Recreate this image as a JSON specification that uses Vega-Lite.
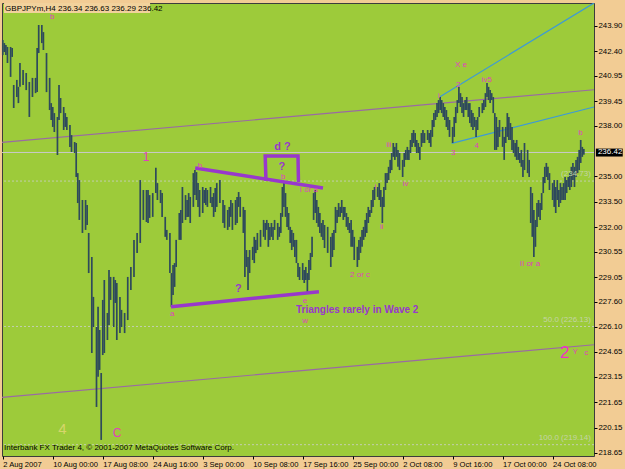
{
"$schema":"https://vega.github.io/schema/vega-lite/v6.json",
"width":592,"height":453,
"autosize":{"type":"none"},
"padding":{"left":2,"top":3,"right":31,"bottom":13},
"background":"#F2CC94",
"config":{"view":{"fill":"#9DCB3A","stroke":"#3C3C3C","strokeWidth":1},
"axis":{"grid":false,"domain":false,"ticks":true,"tickColor":"#000000","tickSize":3,"labelColor":"#000000","labelFont":"Liberation Sans","labelFontSize":8,"title":null,"labelOverlap":false,"labelBound":false,"labelFlush":false},
"axisX":{"labelFontSize":7.6},"axisY":{"labelFontSize":7.8}},
"datasets":{
"bars":[
{"i":0,"h":243.07,"l":242.18},{"i":1,"h":242.89,"l":242.36},{"i":2,"h":242.77,"l":242.18},{"i":3,"h":242.66,"l":241.71},{"i":5,"h":242.66,"l":240.89},{"i":6,"h":242.6,"l":242.07},{"i":7,"h":240.41,"l":239.05},{"i":9,"h":240.71,"l":239.7},{"i":10,"h":240.3,"l":239.34},{"i":11,"h":241.71,"l":240.3},{"i":13,"h":241.3,"l":240.41},{"i":15,"h":241.12,"l":240.11},{"i":17,"h":240.59,"l":238.52},{"i":19,"h":240.83,"l":239.7},{"i":21,"h":240.83,"l":239.93},{"i":22,"h":242.6,"l":239.99},{"i":23,"h":243.96,"l":242.3},{"i":25,"h":243.96,"l":242.89},{"i":26,"h":243.54,"l":242.48},{"i":28,"h":242.3,"l":239.99},{"i":30,"h":240.83,"l":238.93},{"i":31,"h":239.34,"l":238.34},{"i":32,"h":239.11,"l":237.93},{"i":33,"h":238.75,"l":237.63},{"i":35,"h":238.52,"l":236.27},{"i":36,"h":240.41,"l":238.34},{"i":37,"h":239.64,"l":238.75},{"i":39,"h":239.11,"l":237.75},{"i":40,"h":238.75,"l":237.93},{"i":41,"h":238.52,"l":237.75},{"i":43,"h":238.04,"l":236.75},{"i":44,"h":237.45,"l":236.45},{"i":46,"h":237.04,"l":236.39},{"i":47,"h":236.98,"l":234.97},{"i":48,"h":235.2,"l":233.43},{"i":49,"h":234.79,"l":232.43},{"i":51,"h":233.61,"l":231.66},{"i":53,"h":233.61,"l":231.84},{"i":54,"h":233.31,"l":232.13},{"i":55,"h":231.66,"l":229.29},{"i":57,"h":230.24,"l":224.56},{"i":58,"h":227.88,"l":226.1},{"i":60,"h":226.1,"l":221.37},{"i":61,"h":227.29,"l":223.15},{"i":62,"h":225.92,"l":223.56},{"i":63,"h":223.38,"l":219.42},{"i":64,"h":227.7,"l":224.44},{"i":65,"h":228.88,"l":224.56},{"i":67,"h":226.93,"l":225.33},{"i":68,"h":229.47,"l":226.21},{"i":69,"h":229.06,"l":227.7},{"i":71,"h":229.06,"l":226.1},{"i":72,"h":228.88,"l":227.52},{"i":73,"h":228.7,"l":225.33},{"i":75,"h":227.88,"l":225.74},{"i":76,"h":227.11,"l":226.1},{"i":78,"h":226.93,"l":225.74},{"i":80,"h":229.06,"l":226.51},{"i":82,"h":229.65,"l":228.29},{"i":84,"h":231.25,"l":229.06},{"i":86,"h":231.66,"l":230.47},{"i":88,"h":234.79,"l":231.07},{"i":90,"h":234.2,"l":232.43},{"i":92,"h":234.2,"l":232.31},{"i":93,"h":234.2,"l":232.25},{"i":94,"h":233.9,"l":232.55},{"i":96,"h":234.02,"l":232.61},{"i":98,"h":235.51,"l":234.02},{"i":99,"h":234.61,"l":233.61},{"i":101,"h":234.2,"l":233.43},{"i":102,"h":234.02,"l":232.61},{"i":104,"h":232.61,"l":231.43},{"i":105,"h":231.84,"l":231.25},{"i":107,"h":231.66,"l":229.29},{"i":108,"h":229.29,"l":227.29},{"i":109,"h":229.76,"l":227.99},{"i":110,"h":229.88,"l":228.47},{"i":111,"h":231.25,"l":229.65},{"i":113,"h":232.84,"l":231.25},{"i":114,"h":233.02,"l":231.25},{"i":115,"h":234.38,"l":232.25},{"i":117,"h":233.9,"l":232.43},{"i":118,"h":233.61,"l":232.61},{"i":119,"h":234.02,"l":232.61},{"i":120,"h":233.79,"l":232.25},{"i":122,"h":235.2,"l":233.2},{"i":123,"h":235.38,"l":233.9},{"i":124,"h":235.26,"l":233.61},{"i":125,"h":234.61,"l":233.2},{"i":126,"h":234.2,"l":232.61},{"i":128,"h":234.38,"l":232.84},{"i":129,"h":234.2,"l":233.43},{"i":130,"h":234.32,"l":233.31},{"i":131,"h":234.2,"l":233.2},{"i":133,"h":234.38,"l":233.43},{"i":134,"h":233.79,"l":233.2},{"i":135,"h":234.02,"l":232.61},{"i":136,"h":234.32,"l":232.9},{"i":137,"h":234.61,"l":233.2},{"i":139,"h":234.79,"l":233.43},{"i":141,"h":233.61,"l":232.25},{"i":142,"h":233.31,"l":231.96},{"i":144,"h":233.02,"l":231.84},{"i":145,"h":233.2,"l":232.02},{"i":146,"h":233.61,"l":232.61},{"i":147,"h":233.43,"l":231.84},{"i":149,"h":233.61,"l":232.13},{"i":150,"h":233.79,"l":232.25},{"i":151,"h":234.08,"l":233.2},{"i":152,"h":233.79,"l":232.61},{"i":154,"h":233.2,"l":231.66},{"i":155,"h":233.02,"l":229.06},{"i":156,"h":230.65,"l":229.65},{"i":157,"h":230.24,"l":228.29},{"i":158,"h":230.65,"l":229.29},{"i":160,"h":230.84,"l":230.06},{"i":161,"h":231.43,"l":229.88},{"i":162,"h":231.25,"l":230.47},{"i":163,"h":231.66,"l":230.65},{"i":165,"h":231.84,"l":230.84},{"i":167,"h":232.43,"l":231.43},{"i":168,"h":232.25,"l":231.25},{"i":169,"h":232.43,"l":231.84},{"i":170,"h":232.25,"l":230.84},{"i":171,"h":232.02,"l":231.25},{"i":172,"h":232.25,"l":231.43},{"i":173,"h":232.02,"l":231.25},{"i":174,"h":232.43,"l":231.84},{"i":176,"h":232.25,"l":231.25},{"i":177,"h":232.02,"l":231.43},{"i":178,"h":232.84,"l":231.66},{"i":179,"h":234.38,"l":232.61},{"i":180,"h":234.61,"l":233.2},{"i":181,"h":234.02,"l":232.61},{"i":182,"h":233.2,"l":232.02},{"i":183,"h":232.84,"l":231.84},{"i":184,"h":232.02,"l":231.07},{"i":185,"h":231.84,"l":230.65},{"i":186,"h":231.66,"l":230.84},{"i":187,"h":231.25,"l":230.24},{"i":188,"h":231.25,"l":229.88},{"i":189,"h":229.88,"l":229.06},{"i":190,"h":229.65,"l":228.88},{"i":192,"h":229.88,"l":228.88},{"i":193,"h":229.47,"l":228.7},{"i":194,"h":229.65,"l":228.88},{"i":195,"h":229.29,"l":228.05},{"i":196,"h":230.06,"l":228.88},{"i":197,"h":230.48,"l":229.47},{"i":198,"h":231.43,"l":230.24},{"i":199,"h":234.02,"l":232.43},{"i":200,"h":234.2,"l":232.84},{"i":201,"h":233.61,"l":232.25},{"i":202,"h":233.2,"l":232.02},{"i":203,"h":232.84,"l":231.66},{"i":204,"h":232.25,"l":231.43},{"i":205,"h":232.43,"l":231.25},{"i":206,"h":232.13,"l":230.77},{"i":208,"h":232.02,"l":230.48},{"i":210,"h":231.43,"l":229.65},{"i":211,"h":231.66,"l":230.24},{"i":212,"h":231.84,"l":230.65},{"i":213,"h":233.2,"l":231.66},{"i":214,"h":233.02,"l":232.25},{"i":215,"h":233.43,"l":232.61},{"i":216,"h":233.2,"l":232.61},{"i":217,"h":233.61,"l":232.84},{"i":218,"h":233.2,"l":232.43},{"i":219,"h":233.2,"l":232.61},{"i":220,"h":232.84,"l":232.02},{"i":221,"h":232.61,"l":231.84},{"i":222,"h":232.25,"l":231.66},{"i":223,"h":232.43,"l":230.84},{"i":224,"h":231.84,"l":230.84},{"i":225,"h":231.43,"l":230.06},{"i":227,"h":230.84,"l":229.65},{"i":228,"h":231.25,"l":230.06},{"i":229,"h":231.43,"l":230.48},{"i":230,"h":231.84,"l":230.84},{"i":231,"h":232.02,"l":231.25},{"i":232,"h":232.43,"l":231.43},{"i":233,"h":232.84,"l":231.66},{"i":234,"h":233.2,"l":232.25},{"i":235,"h":233.02,"l":232.61},{"i":236,"h":233.61,"l":232.84},{"i":237,"h":234.2,"l":233.2},{"i":238,"h":234.38,"l":233.61},{"i":240,"h":234.38,"l":233.79},{"i":241,"h":234.61,"l":233.61},{"i":242,"h":234.2,"l":233.2},{"i":243,"h":233.79,"l":232.25},{"i":244,"h":234.38,"l":233.2},{"i":245,"h":235.2,"l":234.2},{"i":246,"h":235.2,"l":234.61},{"i":247,"h":235.57,"l":234.79},{"i":248,"h":235.98,"l":235.2},{"i":249,"h":236.39,"l":235.38},{"i":250,"h":236.98,"l":236.16},{"i":251,"h":236.75,"l":235.98},{"i":252,"h":236.98,"l":236.16},{"i":253,"h":236.57,"l":235.57},{"i":254,"h":236.39,"l":235.38},{"i":256,"h":235.98,"l":234.97},{"i":257,"h":236.39,"l":235.57},{"i":258,"h":236.57,"l":235.98},{"i":259,"h":236.75,"l":235.98},{"i":260,"h":236.57,"l":235.98},{"i":261,"h":237.16,"l":236.39},{"i":262,"h":237.57,"l":236.75},{"i":263,"h":237.75,"l":236.98},{"i":264,"h":237.57,"l":236.75},{"i":265,"h":237.16,"l":236.39},{"i":266,"h":236.98,"l":236.39},{"i":267,"h":236.75,"l":235.98},{"i":268,"h":237.57,"l":236.75},{"i":269,"h":237.75,"l":236.98},{"i":270,"h":237.57,"l":236.98},{"i":272,"h":237.75,"l":237.16},{"i":273,"h":237.57,"l":236.98},{"i":274,"h":237.75,"l":236.75},{"i":275,"h":238.34,"l":237.34},{"i":276,"h":238.75,"l":237.93},{"i":277,"h":238.93,"l":238.34},{"i":278,"h":239.34,"l":238.52},{"i":279,"h":239.52,"l":238.75},{"i":280,"h":239.7,"l":238.93},{"i":281,"h":239.52,"l":238.75},{"i":282,"h":239.34,"l":238.52},{"i":283,"h":239.11,"l":238.34},{"i":284,"h":238.93,"l":237.93},{"i":285,"h":238.52,"l":237.75},{"i":286,"h":238.34,"l":237.34},{"i":288,"h":237.93,"l":236.98},{"i":289,"h":238.52,"l":237.34},{"i":290,"h":239.11,"l":238.16},{"i":291,"h":239.52,"l":238.75},{"i":292,"h":240.3,"l":239.34},{"i":293,"h":239.93,"l":239.11},{"i":294,"h":239.7,"l":238.75},{"i":295,"h":239.34,"l":238.52},{"i":296,"h":239.52,"l":238.93},{"i":297,"h":239.7,"l":238.93},{"i":298,"h":239.34,"l":238.52},{"i":299,"h":239.34,"l":238.16},{"i":300,"h":238.93,"l":237.93},{"i":301,"h":238.75,"l":237.75},{"i":302,"h":238.52,"l":237.93},{"i":303,"h":238.34,"l":237.34},{"i":304,"h":238.52,"l":237.75},{"i":305,"h":239.11,"l":238.52},{"i":307,"h":239.34,"l":238.75},{"i":308,"h":239.52,"l":238.93},{"i":309,"h":239.93,"l":239.11},{"i":310,"h":240.53,"l":239.7},{"i":311,"h":240.3,"l":239.52},{"i":312,"h":240.11,"l":239.34},{"i":313,"h":239.93,"l":239.52},{"i":314,"h":239.7,"l":238.75},{"i":315,"h":238.75,"l":236.57},{"i":316,"h":238.52,"l":236.57},{"i":317,"h":237.93,"l":236.75},{"i":318,"h":238.34,"l":237.34},{"i":320,"h":237.93,"l":236.75},{"i":321,"h":237.34,"l":235.98},{"i":322,"h":237.93,"l":236.98},{"i":323,"h":238.75,"l":237.34},{"i":324,"h":238.52,"l":237.16},{"i":325,"h":238.16,"l":237.16},{"i":326,"h":237.93,"l":236.57},{"i":327,"h":237.16,"l":236.39},{"i":328,"h":236.98,"l":236.16},{"i":329,"h":237.16,"l":235.98},{"i":330,"h":236.75,"l":235.98},{"i":331,"h":236.39,"l":235.8},{"i":332,"h":236.57,"l":235.57},{"i":333,"h":235.98,"l":234.97},{"i":334,"h":236.98,"l":235.38},{"i":336,"h":236.57,"l":235.2},{"i":337,"h":235.98,"l":234.97},{"i":338,"h":234.38,"l":232.25},{"i":339,"h":234.02,"l":231.43},{"i":340,"h":233.02,"l":230.24},{"i":341,"h":232.43,"l":230.84},{"i":342,"h":233.43,"l":232.02},{"i":343,"h":233.61,"l":232.61},{"i":344,"h":233.43,"l":232.43},{"i":345,"h":234.02,"l":233.02},{"i":346,"h":234.97,"l":234.02},{"i":347,"h":235.57,"l":234.61},{"i":348,"h":235.8,"l":234.97},{"i":349,"h":235.57,"l":234.79},{"i":350,"h":235.2,"l":234.2},{"i":352,"h":234.61,"l":233.61},{"i":353,"h":234.79,"l":233.2},{"i":354,"h":234.38,"l":232.84},{"i":355,"h":234.79,"l":233.61},{"i":356,"h":234.2,"l":233.2},{"i":357,"h":234.61,"l":233.43},{"i":358,"h":234.38,"l":233.61},{"i":359,"h":234.61,"l":233.61},{"i":360,"h":234.97,"l":233.61},{"i":361,"h":234.79,"l":234.02},{"i":362,"h":234.97,"l":234.38},{"i":363,"h":235.2,"l":234.2},{"i":364,"h":235.57,"l":234.38},{"i":365,"h":235.8,"l":234.79},{"i":366,"h":235.57,"l":234.38},{"i":367,"h":235.98,"l":234.97},{"i":368,"h":236.16,"l":235.2},{"i":369,"h":236.57,"l":235.38},{"i":370,"h":237.16,"l":235.8},{"i":371,"h":236.75,"l":236.16},{"i":372,"h":236.63,"l":236.29}
],
"lines":[
{"id":"c1","k":"chan","o":0,"i":-0.5,"p":237.02},{"id":"c1","k":"chan","o":1,"i":378.5,"p":240.13},
{"id":"c2","k":"chan","o":0,"i":-0.5,"p":221.94},{"id":"c2","k":"chan","o":1,"i":378.5,"p":225.05},
{"id":"b1","k":"blue","o":0,"i":279.9,"p":239.72},{"id":"b1","k":"blue","o":1,"i":378.5,"p":245.26},
{"id":"b2","k":"blue","o":0,"i":287.4,"p":236.96},{"id":"b2","k":"blue","o":1,"i":378.5,"p":239.11},
{"id":"t1","k":"tri","o":0,"i":123.2,"p":235.5},{"id":"t1","k":"tri","o":1,"i":205.0,"p":234.32},
{"id":"t2","k":"tri","o":0,"i":107.7,"p":227.3},{"id":"t2","k":"tri","o":1,"i":202.4,"p":228.19},
{"id":"bx","k":"tri","o":0,"i":168.5,"p":234.73},{"id":"bx","k":"tri","o":1,"i":168.0,"p":236.21},{"id":"bx","k":"tri","o":2,"i":189.0,"p":236.21},{"id":"bx","k":"tri","o":3,"i":189.3,"p":234.67}
],
"levels":[{"k":"bid","p":236.42},{"k":"fib","p":234.73},{"k":"fib","p":226.13},{"k":"fib","p":219.14}],
"texts":[
{"g":"m","t":"b","i":31.6,"p":244.45},{"g":"m","t":"b","i":126.3,"p":235.62},{"g":"m","t":"b","i":179.6,"p":234.99},{"g":"m","t":"I or a","i":196.0,"p":234.21},{"g":"m","t":"a","i":108.5,"p":226.87},{"g":"m","t":"e","i":193.5,"p":227.64},{"g":"m","t":"w","i":193.5,"p":226.45},{"g":"m","t":"2 or c","i":228.7,"p":229.17},{"g":"m","t":"ii","i":242.6,"p":232.03},{"g":"m","t":"i","i":238.7,"p":234.4},{"g":"m","t":"iv","i":257.9,"p":234.54},{"g":"m","t":"iii","i":247.2,"p":236.86},{"g":"m","t":"3","i":288.4,"p":236.37},{"g":"m","t":"4","i":303.4,"p":236.82},{"g":"m","t":"i","i":279.2,"p":239.76},{"g":"m","t":"2","i":291.6,"p":240.41},{"g":"m","t":"X   e","i":293.3,"p":241.61},{"g":"m","t":"iv5","i":309.9,"p":240.71},{"g":"m","t":"II or a","i":337.5,"p":229.81},{"g":"m","t":"b","i":369.9,"p":237.59},{"g":"m","t":"Y","i":366.4,"p":224.62},{"g":"m","t":"c","i":373.5,"p":224.58},
{"g":"M","t":"1","i":91.7,"p":236.15},{"g":"M","t":"C","i":73.2,"p":219.82},
{"g":"L","t":"2","i":359.8,"p":224.58},
{"g":"P","t":"d ?","i":179.0,"p":236.76},{"g":"P","t":"?","i":178.6,"p":235.58},{"g":"P","t":"?","i":150.8,"p":228.35},
{"g":"T","t":"Triangles rarely in Wave 2","i":187.7,"p":227.11},
{"g":"Y","t":"4","i":38.2,"p":220.07},
{"g":"K","t":"GBPJPYm,H4  236.34 236.63 236.29 236.42","i":1.5,"p":244.93},{"g":"K","t":"Interbank FX Trader 4, © 2001-2007 MetaQuotes Software Corp.","i":0.8,"p":218.95},
{"g":"F","t":"(234.73)","i":376.5,"p":234.9},{"g":"F","t":"50.0 (226.13)","i":376.5,"p":226.3},{"g":"F","t":"100.0 (219.14)","i":376.5,"p":219.31}
],
"boxes":[{"k":"title","i":0.8,"i2":94.3,"p":245.26,"p2":244.67},{"k":"tag","i":379.7,"i2":396.9,"p":236.65,"p2":236.18}]
},
"layer":[
{"data":{"name":"boxes"},"transform":[{"filter":"datum.k=='title'"}],"mark":{"type":"rect","color":"#F2D29C"},
"encoding":{"x":{"field":"i","type":"quantitative","scale":{"domain":[-0.5,378.5],"nice":false,"zero":false},
"axis":{"orient":"bottom","tickCount":40,"values":[0,32,64,96,128,160,192,224,256,288,320,352],"labelAlign":"left","labelBaseline":"top","labelPadding":1,"labelFlush":false,"labelOverlap":false,
"labelExpr":"['2 Aug 2007','10 Aug 00:00','17 Aug 08:00','24 Aug 16:00','3 Sep 00:00','10 Sep 08:00','17 Sep 16:00','25 Sep 00:00','2 Oct 08:00','9 Oct 16:00','17 Oct 00:00','24 Oct 08:00'][round(datum.value/32)]"}},
"x2":{"field":"i2"},
"y":{"field":"p","type":"quantitative","scale":{"domain":[218.47,245.26],"nice":false,"zero":false},
"axis":{"orient":"right","tickCount":40,"values":[218.65,220.15,221.65,223.15,224.65,226.1,227.6,229.05,230.55,232,233.5,235,238,239.45,240.95,242.4,243.9],"format":".2f","labelAlign":"left","labelBaseline":"middle","labelPadding":1,"labelFlush":false,"labelOverlap":false}},
"y2":{"field":"p2"}}},
{"data":{"name":"levels"},"transform":[{"filter":"datum.k=='bid'"}],"mark":{"type":"rule","color":"#C9C9C9","strokeWidth":1},
"encoding":{"y":{"field":"p","type":"quantitative"}}},
{"data":{"name":"levels"},"transform":[{"filter":"datum.k=='fib'"}],"mark":{"type":"rule","color":"#C2CFAE","strokeWidth":1,"strokeDash":[2,2]},
"encoding":{"y":{"field":"p","type":"quantitative"}}},
{"data":{"name":"lines"},"transform":[{"filter":"datum.k=='chan'"}],"mark":{"type":"line","color":"#9A6AA4","strokeWidth":1.2,"clip":true},
"encoding":{"x":{"field":"i","type":"quantitative"},"y":{"field":"p","type":"quantitative"},"detail":{"field":"id"},"order":{"field":"o"}}},
{"data":{"name":"lines"},"transform":[{"filter":"datum.k=='blue'"}],"mark":{"type":"line","color":"#3C9AD8","strokeWidth":1.2,"clip":true},
"encoding":{"x":{"field":"i","type":"quantitative"},"y":{"field":"p","type":"quantitative"},"detail":{"field":"id"},"order":{"field":"o"}}},
{"data":{"name":"bars"},"mark":{"type":"rule","color":"#2E4A5C","strokeWidth":1.7},
"encoding":{"x":{"field":"i","type":"quantitative"},"y":{"field":"l","type":"quantitative"},"y2":{"field":"h"}}},
{"data":{"name":"lines"},"transform":[{"filter":"datum.k=='tri'"}],"mark":{"type":"line","color":"#9838CC","strokeWidth":3.5,"strokeJoin":"miter"},
"encoding":{"x":{"field":"i","type":"quantitative"},"y":{"field":"p","type":"quantitative"},"detail":{"field":"id"},"order":{"field":"o"}}},
{"data":{"name":"texts"},"transform":[{"filter":"datum.g=='m'"}],"mark":{"type":"text","color":"#E040C0","fontSize":8,"font":"Liberation Sans","baseline":"middle"},
"encoding":{"x":{"field":"i","type":"quantitative"},"y":{"field":"p","type":"quantitative"},"text":{"field":"t"}}},
{"data":{"name":"texts"},"transform":[{"filter":"datum.g=='M'"}],"mark":{"type":"text","color":"#E040C0","fontSize":12,"font":"Liberation Sans","baseline":"middle"},
"encoding":{"x":{"field":"i","type":"quantitative"},"y":{"field":"p","type":"quantitative"},"text":{"field":"t"}}},
{"data":{"name":"texts"},"transform":[{"filter":"datum.g=='L'"}],"mark":{"type":"text","color":"#F030C8","fontSize":17,"font":"Liberation Sans","baseline":"middle"},
"encoding":{"x":{"field":"i","type":"quantitative"},"y":{"field":"p","type":"quantitative"},"text":{"field":"t"}}},
{"data":{"name":"texts"},"transform":[{"filter":"datum.g=='P'"}],"mark":{"type":"text","color":"#9838CC","fontSize":11,"fontWeight":"bold","font":"Liberation Sans","baseline":"middle"},
"encoding":{"x":{"field":"i","type":"quantitative"},"y":{"field":"p","type":"quantitative"},"text":{"field":"t"}}},
{"data":{"name":"texts"},"transform":[{"filter":"datum.g=='T'"}],"mark":{"type":"text","color":"#9838CC","fontSize":10,"fontWeight":"bold","font":"Liberation Sans","baseline":"middle","align":"left"},
"encoding":{"x":{"field":"i","type":"quantitative"},"y":{"field":"p","type":"quantitative"},"text":{"field":"t"}}},
{"data":{"name":"texts"},"transform":[{"filter":"datum.g=='Y'"}],"mark":{"type":"text","color":"#D6D66A","fontSize":15,"font":"Liberation Sans","baseline":"middle"},
"encoding":{"x":{"field":"i","type":"quantitative"},"y":{"field":"p","type":"quantitative"},"text":{"field":"t"}}},
{"data":{"name":"texts"},"transform":[{"filter":"datum.g=='K'"}],"mark":{"type":"text","color":"#000000","fontSize":8,"font":"Liberation Sans","baseline":"middle","align":"left"},
"encoding":{"x":{"field":"i","type":"quantitative"},"y":{"field":"p","type":"quantitative"},"text":{"field":"t"}}},
{"data":{"name":"texts"},"transform":[{"filter":"datum.g=='F'"}],"mark":{"type":"text","color":"#C4D4A6","fontSize":8,"font":"Liberation Sans","baseline":"bottom","align":"right"},
"encoding":{"x":{"field":"i","type":"quantitative"},"y":{"field":"p","type":"quantitative"},"text":{"field":"t"}}},
{"data":{"name":"boxes"},"transform":[{"filter":"datum.k=='tag'"}],"mark":{"type":"rect","color":"#000000","clip":false},
"encoding":{"x":{"field":"i","type":"quantitative"},"x2":{"field":"i2"},"y":{"field":"p","type":"quantitative"},"y2":{"field":"p2"}}},
{"data":{"values":[{"t":"236.42","i":381.0,"p":236.42}]},"mark":{"type":"text","color":"#FFFFFF","fontSize":8,"font":"Liberation Sans","baseline":"middle","align":"left","clip":false},
"encoding":{"x":{"field":"i","type":"quantitative"},"y":{"field":"p","type":"quantitative"},"text":{"field":"t"}}}
]
}
